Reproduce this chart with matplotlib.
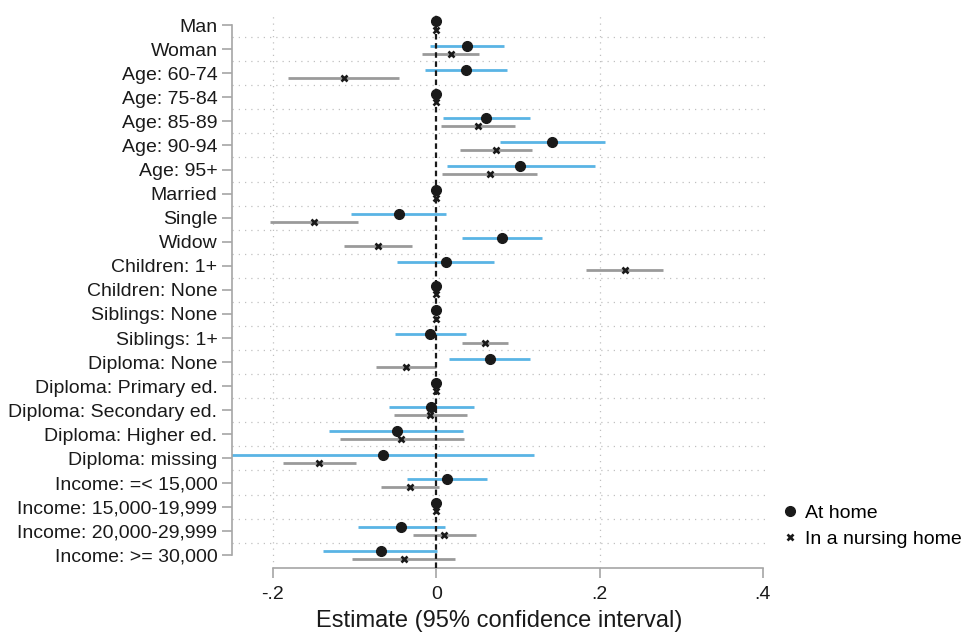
import matplotlib.pyplot as plt
from matplotlib.lines import Line2D
import numpy as np

plt.rcParams['font.family'] = ['Liberation Sans', 'DejaVu Sans']

labels = ["Man", "Woman", "Age: 60-74", "Age: 75-84", "Age: 85-89", "Age: 90-94",
          "Age: 95+", "Married", "Single", "Widow", "Children: 1+", "Children: None",
          "Siblings: None", "Siblings: 1+", "Diploma: None", "Diploma: Primary ed.",
          "Diploma: Secondary ed.", "Diploma: Higher ed.", "Diploma: missing",
          "Income: =< 15,000", "Income: 15,000-19,999", "Income: 20,000-29,999",
          "Income: >= 30,000"]

# At home
home_est = [0, 0.038, 0.037, 0, 0.061, 0.142, 0.103, 0, -0.046, 0.080, 0.012, 0, 0,
            -0.007, 0.0655, 0, -0.006, -0.048, -0.065, 0.013, 0, -0.043, -0.068]
home_lo = [0, -0.007, -0.014, 0, 0.008, 0.078, 0.013, 0, -0.104, 0.031, -0.048, 0, 0,
           -0.050, 0.016, 0, -0.058, -0.131, -0.27, -0.036, 0, -0.096, -0.139]
home_hi = [0, 0.083, 0.087, 0, 0.115, 0.207, 0.194, 0, 0.012, 0.129, 0.071, 0, 0,
           0.036, 0.115, 0, 0.046, 0.033, 0.120, 0.062, 0, 0.011, 0.001]

# In a nursing home
nurse_est = [0, 0.018, -0.113, 0, 0.051, 0.073, 0.066, 0, -0.150, -0.0715, 0.231, 0, 0,
             0.060, -0.037, 0, -0.007, -0.043, -0.143, -0.032, 0, 0.010, -0.040]
nurse_lo = [0, -0.017, -0.182, 0, 0.006, 0.029, 0.0065, 0, -0.204, -0.113, 0.184, 0, 0,
            0.031, -0.074, 0, -0.052, -0.118, -0.188, -0.068, 0, -0.029, -0.103]
nurse_hi = [0, 0.053, -0.045, 0, 0.096, 0.117, 0.124, 0, -0.096, -0.030, 0.278, 0, 0,
            0.088, 0.0, 0, 0.038, 0.034, -0.098, 0.004, 0, 0.049, 0.023]

xticks = [-0.2, 0, 0.2, 0.4]
xticklabels = ["-.2", "0", ".2", ".4"]

blue = '#5ab4e5'
gray = '#9a9a9a'
axcol = '#a6a6a6'
dark = '#1a1a1a'

fig = plt.figure(figsize=(9.65, 6.32), dpi=100)
ax = fig.add_axes([232 / 965, 64 / 632, 535 / 965, 555 / 632])

n = len(labels)
y = np.arange(n)
y_home = y - 0.15
y_nurse = y + 0.19

# grid
for g in np.arange(n - 1) + 0.5:
    ax.axhline(g, color='#c0c0c0', lw=0.9, ls=(0, (1, 4)), zorder=1)
for g in [-0.2, 0.2]:
    ax.axvline(g, color='#c0c0c0', lw=0.9, ls=(0, (1, 4)), zorder=1)

ax.hlines(y_home, home_lo, home_hi, color=blue, lw=2, zorder=2)
ax.hlines(y_nurse, nurse_lo, nurse_hi, color=gray, lw=2, zorder=2)
ax.axvline(0, color=dark, lw=1.6, ls=(0, (2.5, 1.6)), zorder=3)
ax.plot(home_est, y_home, 'o', color=dark, ms=7, zorder=4)
ax.plot(nurse_est, y_nurse, 'x', color=dark, ms=4.5, mew=1.9, zorder=4)

ax.set_xlim(-0.25, 0.405)
ax.set_ylim(n - 0.45, -0.5)
ax.set_yticks(y)
ax.set_yticklabels(labels, fontsize=14, color=dark)
ax.set_xticks(xticks)
ax.set_xticklabels(xticklabels, fontsize=14, color=dark)
ax.set_xlabel("Estimate (95% confidence interval)", fontsize=17, color=dark, labelpad=5)

for s in ['top', 'right']:
    ax.spines[s].set_visible(False)
for s in ['left', 'bottom']:
    ax.spines[s].set_color(axcol)
    ax.spines[s].set_linewidth(1.2)
ax.spines['left'].set_bounds(0, n - 1)
ax.spines['bottom'].set_bounds(-0.2, 0.4)
ax.tick_params(axis='both', colors=axcol, length=7, width=1.2, labelcolor=dark)
ax.tick_params(axis='y', pad=3.5)
ax.tick_params(axis='x', pad=6)

handles = [Line2D([], [], marker='o', ls='', color=dark, ms=7),
           Line2D([], [], marker='x', ls='', color=dark, ms=4.5, mew=1.9)]
fig.legend(handles, ["At home", "In a nursing home"], loc='center left',
           bbox_to_anchor=(772 / 965, 1 - 526 / 632), frameon=False, fontsize=14,
           handlelength=0.8, handletextpad=0.4, labelspacing=0.45, borderpad=0)

fig.savefig('out.png', dpi=100)
